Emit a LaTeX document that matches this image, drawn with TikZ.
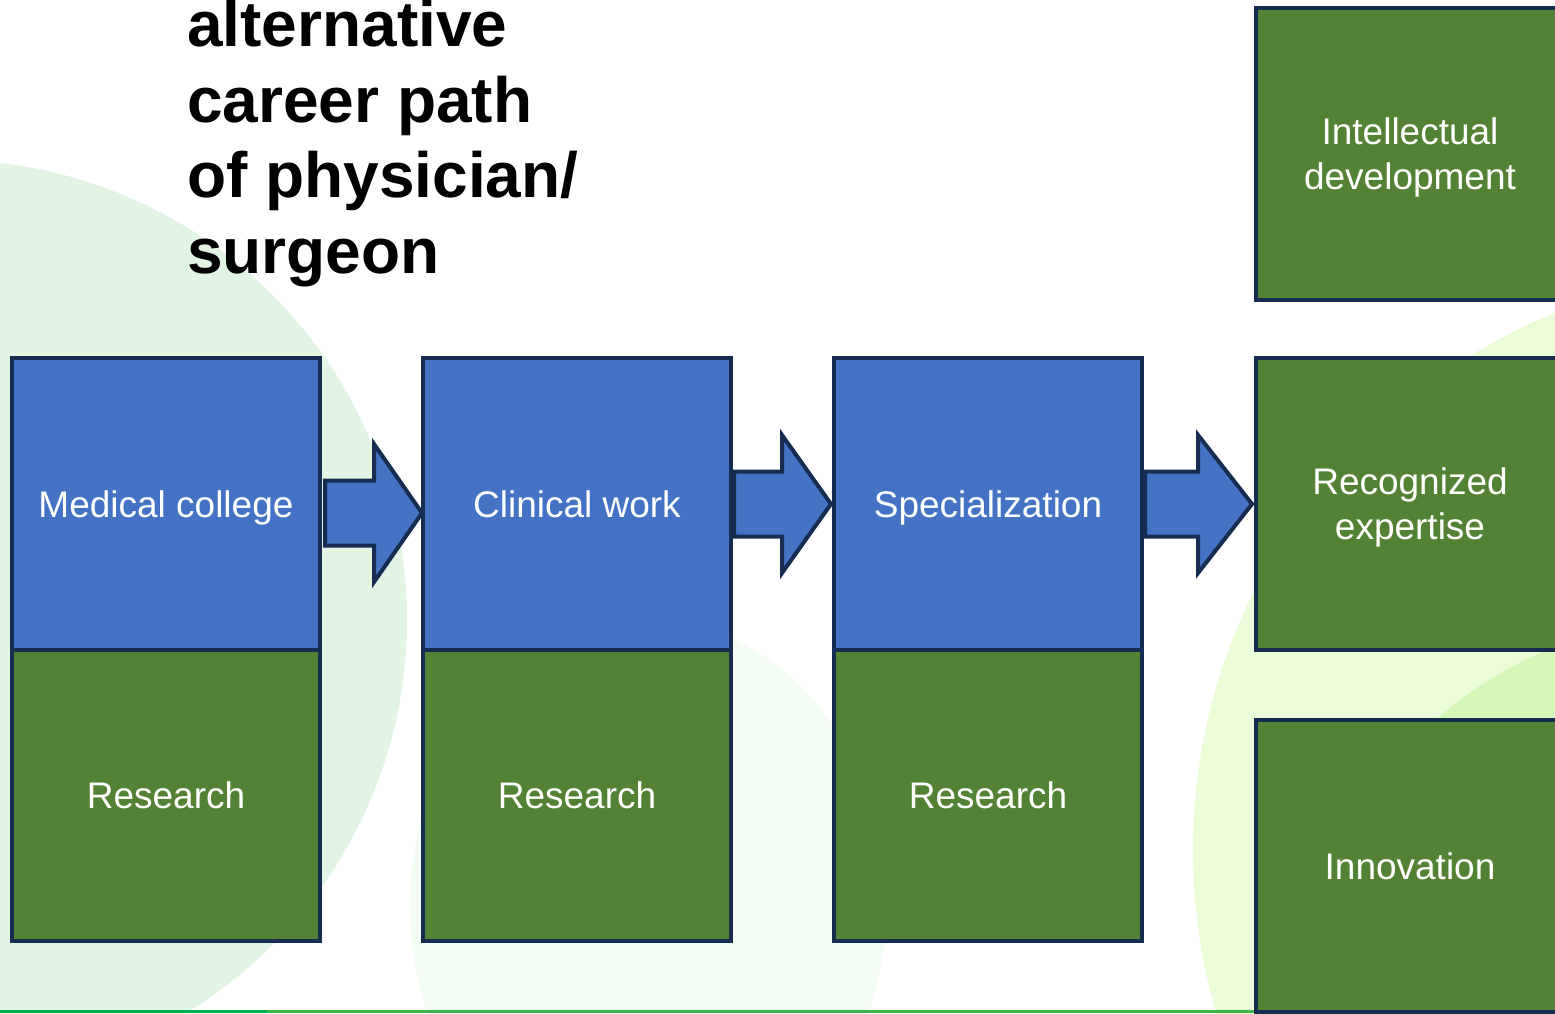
\documentclass[tikz,border=0pt]{standalone}
\usepackage{fontspec}
\setmainfont{Liberation Sans}
\usetikzlibrary{calc}
\definecolor{bluefill}{HTML}{4472C4}
\definecolor{greenfill}{HTML}{548235}
\definecolor{edgecol}{HTML}{172C51}
\definecolor{bgleft}{HTML}{E2F5E4}
\definecolor{bgmid}{HTML}{F3FDF3}
\definecolor{bgright}{HTML}{EBFCD9}
\definecolor{bgrighttwo}{HTML}{D5F7B9}
\definecolor{linegreen}{HTML}{00B050}
\definecolor{linegreentwo}{HTML}{3DB54A}
\newcommand\blockarrowdraw[6]{%
  \draw[barrow] let \p1=(#1.east), \p2=(#2.west) in
    (\x1+#3pt, \y1-#6pt+32.5pt) -- (\x2-#5pt-#4pt, \y1-#6pt+32.5pt)
    -- (\x2-#5pt-#4pt, \y1-#6pt+69pt) -- (\x2-#5pt, \y1-#6pt)
    -- (\x2-#5pt-#4pt, \y1-#6pt-69pt) -- (\x2-#5pt-#4pt, \y1-#6pt-32.5pt)
    -- (\x1+#3pt, \y1-#6pt-32.5pt) -- cycle;}
\begin{document}
\begin{tikzpicture}[x=1pt,y=-1pt,
  box/.style={draw=edgecol, line width=4pt, minimum width=308pt, inner sep=0pt, outer sep=0pt,
    text=white, align=center, font=\fontsize{37}{45}\selectfont, line join=miter,
    text depth=0pt},
  bluebox/.style={box, fill=bluefill, minimum height=292pt},
  greenbox/.style={box, fill=greenfill, minimum height=291pt},
  barrow/.style={draw=edgecol, line width=4pt, fill=bluefill, line join=miter},
  titletext/.style={anchor=base west, align=left, inner sep=0pt,
    font=\fontsize{64}{75.5}\selectfont\bfseries, text=black}
]
\useasboundingbox (0,0) rectangle (1555,1013);
\clip (0,0) rectangle (1555,1013);
\fill[white] (0,0) rectangle (1555,1013);
% background shapes
\fill[bgleft] (-53,620) circle[radius=460];
\fill[bgmid] (648,905) ellipse[x radius=238, y radius=285];
\fill[bgright] (1772,850) circle[radius=579];
\fill[bgrighttwo] (1700,1020) circle[radius=400];
\fill[linegreen] (0,1010) rectangle (267,1013);
\fill[linegreentwo] (267,1010) rectangle (1555,1013);
% title (base anchor = baseline of last line)
\node[titletext] (title) at (187,273) {alternative\\career path\\of physician/\\surgeon};
% columns
\node[bluebox] (mc) at (166,504) {Medical college};
\node[greenbox] (r1) at (166,795.5) {Research};
\node[bluebox] (cw) at (577,504) {Clinical work};
\node[greenbox] (r2) at (577,795.5) {Research};
\node[bluebox] (sp) at (988,504) {Specialization};
\node[greenbox] (r3) at (988,795.5) {Research};
% outcomes
\node[greenbox, minimum height=292pt] (idv) at (1410,154) {Intellectual\\development};
\node[greenbox, minimum height=292pt] (rex) at (1410,504) {Recognized\\expertise};
\node[greenbox, minimum height=292pt] (inn) at (1410,866) {Innovation};
% block arrows
\blockarrowdraw{mc}{cw}{5}{48}{1}{9}
\blockarrowdraw{cw}{sp}{3}{49}{3}{0}
\blockarrowdraw{sp}{rex}{3}{54}{4}{0}
\end{tikzpicture}
\end{document}
